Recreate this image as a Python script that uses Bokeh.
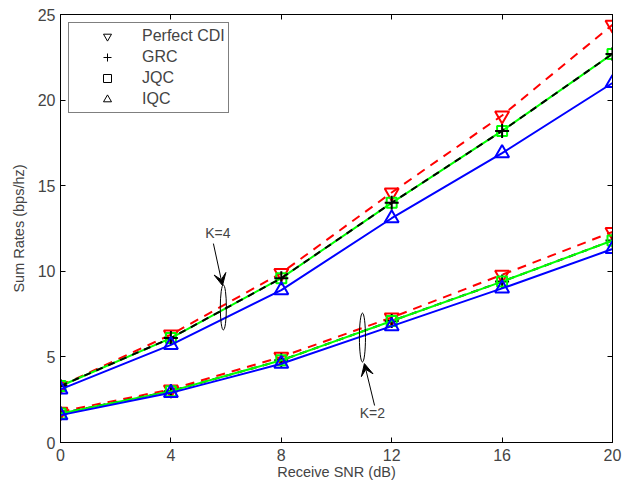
from bokeh.plotting import figure
from bokeh.embed import file_html
from bokeh.resources import INLINE
from bokeh.models import (LinearAxis, Legend, LegendItem, Arrow, VeeHead, Label,
                          FixedTicker, Range1d)

snr = [0, 4, 8, 12, 16, 20]
x_ticks = [0, 4, 8, 12, 16, 20]
y_ticks = [0, 5, 10, 15, 20, 25]

# K = 4
k4_perfect = [3.3, 6.3, 9.9, 14.6, 19.1, 24.4]
k4_grc = [3.3, 6.1, 9.6, 14.0, 18.2, 22.7]
k4_jqc = [3.3, 6.1, 9.6, 14.0, 18.2, 22.7]
k4_iqc = [3.1, 5.7, 8.9, 13.1, 16.9, 21.0]

# K = 2
k2_perfect = [1.8, 3.1, 5.0, 7.3, 9.8, 12.3]
k2_grc = [1.7, 3.0, 4.8, 7.1, 9.4, 11.8]
k2_jqc = [1.7, 3.0, 4.8, 7.1, 9.4, 11.8]
k2_iqc = [1.6, 2.9, 4.6, 6.8, 9.0, 11.3]

legend_labels = ["Perfect CDI", "GRC", "JQC", "IQC"]

FONT = "Liberation Sans"

p = figure(width=626, height=487, output_backend="svg", toolbar_location=None,
           x_range=Range1d(0, 20), y_range=Range1d(0, 25),
           min_border_left=60, min_border_right=14, min_border_top=14, min_border_bottom=45)
p.grid.visible = False
p.outline_line_color = "black"
p.outline_line_width = 1
p.background_fill_color = "white"
p.border_fill_color = "white"

for ax in [p.xaxis[0], p.yaxis[0]]:
    ax.major_tick_in = 5
    ax.major_tick_out = 0
    ax.minor_tick_line_color = None
    ax.major_label_text_font = FONT
    ax.major_label_text_font_size = "16px"
    ax.axis_label_text_font = FONT
    ax.axis_label_text_font_size = "14.5px"
    ax.axis_label_text_font_style = "normal"
    ax.axis_line_color = "black"
p.xaxis[0].ticker = FixedTicker(ticks=x_ticks)
p.yaxis[0].ticker = FixedTicker(ticks=y_ticks)
p.xaxis[0].axis_label = "Receive SNR (dB)"
p.yaxis[0].axis_label = "Sum Rates (bps/hz)"
p.xaxis[0].major_label_standoff = 6
p.yaxis[0].major_label_standoff = 5
p.xaxis[0].axis_label_standoff = 0
p.yaxis[0].axis_label_standoff = 8

# top / right tick-only axes
top = LinearAxis(ticker=FixedTicker(ticks=x_ticks), major_tick_in=5, major_tick_out=0,
                 minor_tick_line_color=None, major_label_text_font_size="0px",
                 major_label_standoff=0)
right = LinearAxis(ticker=FixedTicker(ticks=y_ticks), major_tick_in=5, major_tick_out=0,
                   minor_tick_line_color=None, major_label_text_font_size="0px",
                   major_label_standoff=0)
p.add_layout(top, "above")
p.add_layout(right, "right")

LW = 2

def group(perfect, grc, jqc, iqc, black_on_top):
    p.line(snr, perfect, line_color="red", line_width=LW, line_dash="9 7")
    p.scatter(snr, perfect, marker="inverted_triangle", size=14, line_color="red",
              fill_color=None, line_width=LW)
    if not black_on_top:
        p.line(snr, grc, line_color="black", line_width=LW, line_dash="7 6")
        p.scatter(snr, grc, marker="cross", size=14, line_color="black", line_width=LW)
    p.line(snr, jqc, line_color="#00ff00", line_width=LW)
    p.scatter(snr, jqc, marker="square", size=10, line_color="#00ff00",
              fill_color=None, line_width=LW)
    if black_on_top:
        p.line(snr, grc, line_color="black", line_width=LW, line_dash="7 6")
        p.scatter(snr, grc, marker="cross", size=14, line_color="black", line_width=LW)
    p.line(snr, iqc, line_color="blue", line_width=LW)
    p.scatter(snr, iqc, marker="triangle", size=14, line_color="blue",
              fill_color=None, line_width=LW)

group(k4_perfect, k4_grc, k4_jqc, k4_iqc, True)
group(k2_perfect, k2_grc, k2_jqc, k2_iqc, False)

# annotations
p.ellipse(x=[5.9, 10.94], y=[7.89, 6.13], width=[0.22, 0.22], height=[2.63, 2.86],
          fill_color=None, line_color="black", line_width=1)
p.add_layout(Arrow(end=VeeHead(size=12, fill_color="black", line_color="black"),
                   x_start=5.54, y_start=11.62, x_end=5.87, y_end=9.17,
                   line_color="black", line_width=1))
p.add_layout(Arrow(end=VeeHead(size=12, fill_color="black", line_color="black"),
                   x_start=11.38, y_start=2.16, x_end=11.01, y_end=4.61,
                   line_color="black", line_width=1))
p.add_layout(Label(x=5.7, y=12.25, text="K=4", text_font=FONT, text_font_size="14px",
                   text_align="center", text_baseline="middle"))
p.add_layout(Label(x=11.3, y=1.72, text="K=2", text_font=FONT, text_font_size="14px",
                   text_align="center", text_baseline="middle"))

# legend (markers only); legend renderers carry a single point outside the view
r1 = p.scatter([-100], [-100], marker="inverted_triangle", size=12, line_color="black", fill_color=None)
r2 = p.scatter([-100], [-100], marker="cross", size=12, line_color="black")
r3 = p.scatter([-100], [-100], marker="square", size=9, line_color="black", fill_color=None)
r4 = p.scatter([-100], [-100], marker="triangle", size=12, line_color="black", fill_color=None)
legend = Legend(items=[LegendItem(label=l, renderers=[r]) for l, r in
                       zip(legend_labels, [r1, r2, r3, r4])],
                location="top_left", label_text_font=FONT, label_text_font_size="16px",
                border_line_color="black", border_line_width=1, spacing=1,
                glyph_width=70, label_height=20, glyph_height=20, padding=3,
                margin=8, label_standoff=-4)
p.add_layout(legend)

open("out.html", "w").write(file_html(p, INLINE))
